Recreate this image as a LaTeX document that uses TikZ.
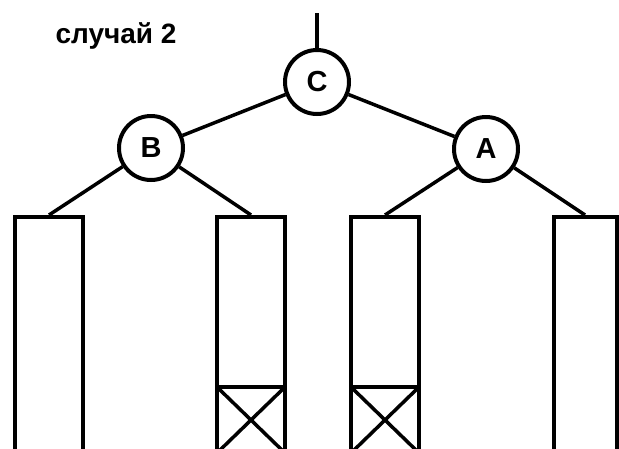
\documentclass[tikz,border=0pt]{standalone}
\usepackage{fontspec}
\setmainfont{Liberation Sans}
\usepackage{tikz}
\usetikzlibrary{positioning}

\begin{document}
\begin{tikzpicture}[
				x=1pt, y=-1pt,
				key/.style={circle, draw, line width=4pt, minimum size=64pt,
					inner sep=0pt, font=\bfseries\fontsize{29}{31}\selectfont},
				subtree/.style={rectangle, draw, line width=4pt, anchor=north,
					minimum width=68pt, minimum height=236pt, inner sep=0pt},
				crossbox/.style={rectangle, draw, line width=4pt, anchor=south,
					minimum width=68pt, minimum height=66pt, inner sep=0pt,
					path picture={\draw[line width=3.5pt]
						(path picture bounding box.north west) -- (path picture bounding box.south east)
						(path picture bounding box.south west) -- (path picture bounding box.north east);}},
				edge/.style={line width=3.5pt}
				]
				\path[use as bounding box, clip] (0,0) rectangle (619,448);
				\node[font=\bfseries\fontsize{28}{30}\selectfont] (title) at (116,36) {случай 2};
				\node[key] (C) at (317,82) {C};
				\node[key] (B) at (151,148) {B};
				\node[key] (A) at (486,149) {A};
				\coordinate (top) at (317,13);
				% subtrees
				\node[subtree] (t1) at (49,215) {};
				\node[subtree] (t2) at (251,215) {};
				\node[subtree] (t3) at (385,215) {};
				\node[subtree, minimum width=63pt] (t4) at (585,215) {};
				\node[crossbox] (x2) at (t2.south) {};
				\node[crossbox] (x3) at (t3.south) {};
				\draw[edge] (top) -- (C);
				\draw[edge] (C) -- (B);
				\draw[edge] (C) -- (A);
				\draw[edge] (B) -- (t1.north);
				\draw[edge] (B) -- (t2.north);
				\draw[edge] (A) -- (t3.north);
				\draw[edge] (A) -- (t4.north);
			\end{tikzpicture}
\end{document}
